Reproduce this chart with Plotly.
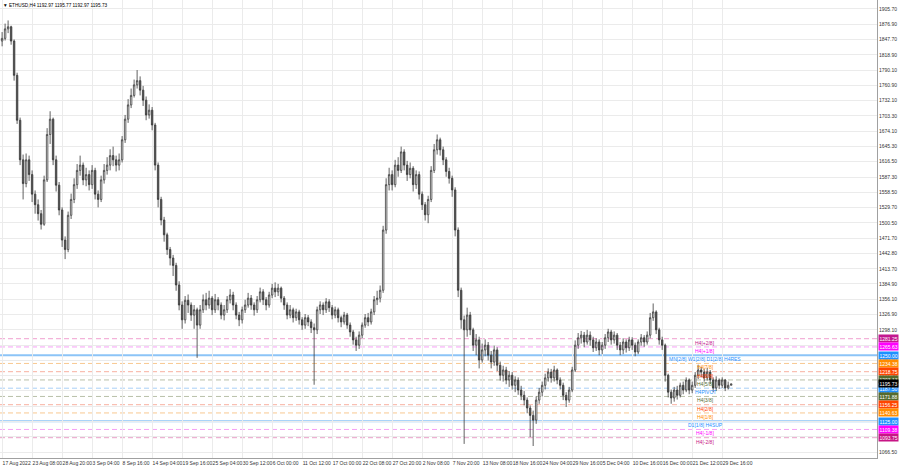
import plotly.graph_objects as go

# ---------------- data ----------------
first_open = 1845.0
close = [1850,1868,1872,1845,1780,1695,1620,1575,1620,1592,
         1555,1535,1518,1498,1582,1668,1697,1620,1572,1525,
         1468,1450,1515,1545,1573,1600,1610,1582,1592,1573,
         1600,1555,1545,1582,1600,1610,1628,1620,1610,1620,
         1658,1697,1724,1742,1762,1770,1752,1733,1705,1714,
         1686,1610,1545,1506,1478,1450,1434,1420,1383,1345,
         1317,1354,1345,1326,1336,1307,1336,1355,1345,1358,
         1336,1355,1345,1326,1336,1355,1364,1345,1326,1317,
         1336,1345,1358,1345,1336,1355,1370,1355,1345,1364,
         1377,1370,1377,1358,1345,1326,1336,1321,1332,1317,
         1307,1321,1313,1302,1298,1336,1345,1336,1351,1340,
         1326,1336,1321,1313,1326,1307,1294,1279,1269,1288,
         1307,1321,1313,1332,1355,1358,1373,1487,1573,1592,
         1573,1610,1600,1635,1610,1592,1604,1573,1592,1555,
         1535,1516,1545,1600,1639,1658,1639,1620,1598,1585,
         1563,1487,1373,1317,1298,1326,1298,1269,1279,1241,
         1260,1269,1250,1237,1260,1231,1212,1222,1203,1212,
         1193,1203,1184,1174,1165,1150,1136,1127,1165,1180,
         1193,1207,1218,1207,1222,1203,1193,1174,1165,1184,
         1222,1269,1283,1288,1275,1288,1279,1264,1275,1260,
         1269,1283,1294,1279,1288,1269,1260,1275,1264,1279,
         1269,1256,1275,1283,1275,1288,1321,1332,1298,1279,
         1269,1212,1180,1169,1184,1174,1193,1184,1203,1184,
         1193,1212,1222,1218,1207,1218,1203,1188,1203,1193,
         1203,1188,1192.97,1195.73]
high = [1862,1878,1884,1874,1848,1785,1700,1630,1632,1628,
        1600,1562,1545,1525,1590,1680,1712,1700,1628,1578,
        1530,1475,1522,1556,1585,1612,1628,1615,1605,1600,
        1610,1605,1562,1590,1612,1625,1640,1645,1628,1632,
        1665,1705,1735,1755,1772,1790,1778,1760,1740,1725,
        1720,1690,1615,1550,1512,1482,1455,1440,1425,1390,
        1352,1362,1365,1350,1345,1340,1345,1365,1368,1372,
        1362,1366,1360,1350,1345,1362,1375,1370,1350,1332,
        1342,1355,1368,1364,1350,1362,1378,1375,1360,1370,
        1385,1388,1385,1380,1362,1350,1345,1340,1338,1336,
        1322,1328,1326,1318,1310,1342,1352,1350,1358,1356,
        1345,1342,1340,1325,1332,1330,1312,1298,1285,1295,
        1312,1328,1330,1338,1362,1372,1382,1495,1585,1605,
        1600,1620,1625,1645,1640,1618,1615,1608,1600,1598,
        1560,1540,1552,1608,1650,1668,1662,1645,1625,1605,
        1590,1568,1492,1378,1325,1340,1332,1302,1290,1285,
        1272,1280,1275,1258,1268,1265,1238,1230,1228,1220,
        1218,1210,1208,1192,1182,1170,1155,1145,1172,1188,
        1200,1215,1225,1224,1230,1225,1208,1198,1180,1190,
        1228,1278,1292,1296,1294,1298,1295,1285,1282,1280,
        1275,1290,1300,1298,1295,1292,1275,1282,1280,1285,
        1284,1274,1280,1290,1288,1295,1330,1348,1335,1302,
        1285,1272,1215,1185,1190,1192,1198,1200,1208,1206,
        1200,1218,1232,1228,1225,1226,1222,1208,1210,1206,
        1208,1205,1200,1195.77]
low = [1835,1846,1860,1838,1770,1688,1610,1545,1568,1580,
       1540,1518,1505,1488,1495,1578,1650,1610,1560,1515,
       1455,1432,1445,1508,1538,1565,1590,1572,1570,1562,
       1565,1545,1530,1540,1575,1592,1600,1608,1598,1600,
       1615,1652,1690,1718,1738,1755,1742,1722,1695,1698,
       1676,1600,1530,1496,1465,1440,1420,1400,1372,1335,
       1300,1310,1330,1315,1300,1245,1300,1330,1335,1338,
       1326,1330,1335,1318,1316,1330,1348,1335,1318,1305,
       1310,1330,1340,1336,1325,1330,1350,1345,1335,1340,
       1358,1360,1362,1350,1336,1318,1320,1312,1315,1308,
       1298,1300,1305,1292,1194,1290,1328,1326,1330,1332,
       1318,1320,1312,1303,1308,1300,1285,1270,1258,1262,
       1282,1302,1305,1308,1326,1345,1350,1368,1480,1562,
       1562,1568,1588,1595,1600,1580,1585,1560,1565,1545,
       1525,1505,1500,1540,1595,1630,1628,1610,1588,1575,
       1550,1475,1360,1300,1082,1285,1288,1258,1250,1225,
       1236,1248,1240,1225,1230,1220,1202,1200,1195,1190,
       1185,1180,1175,1165,1155,1140,1095,1078,1120,1158,
       1172,1185,1200,1198,1200,1195,1185,1165,1152,1160,
       1180,1218,1262,1272,1265,1270,1268,1256,1258,1250,
       1252,1262,1275,1270,1272,1260,1250,1252,1255,1258,
       1260,1248,1252,1268,1266,1270,1282,1315,1290,1270,
       1260,1200,1170,1158,1162,1166,1170,1176,1180,1176,
       1178,1188,1205,1208,1200,1202,1196,1180,1182,1186,
       1188,1182,1185,1192.97]

x_tick_labels = ["17 Aug 2022","23 Aug 08:00","28 Aug 20:00","3 Sep 04:00","8 Sep 16:00",
                 "14 Sep 04:00","19 Sep 16:00","25 Sep 04:00","30 Sep 12:00","6 Oct 00:00",
                 "11 Oct 12:00","17 Oct 00:00","22 Oct 08:00","27 Oct 20:00","2 Nov 08:00",
                 "7 Nov 20:00","13 Nov 08:00","18 Nov 16:00","24 Nov 04:00","29 Nov 16:00",
                 "5 Dec 04:00","10 Dec 16:00","16 Dec 00:00","21 Dec 12:00","29 Dec 16:00"]
x_tick_bars = list(range(0, 250, 10))

y_ticks = [1905.70,1876.90,1847.70,1818.90,1790.10,1760.90,1732.10,1703.30,1674.10,1645.30,
           1616.50,1587.30,1558.50,1529.70,1500.50,1471.70,1442.80,1413.70,1384.90,1356.10,
           1326.90,1298.10,1269.30,1240.10,1211.30,1182.50,1153.30,1124.50,1095.70,1066.50]

level_prices = [1281.25,1265.63,1250.00,1234.38,1218.75,1203.13,1187.50,1171.88,1156.25,1140.63,1125.00,1109.38,1093.75]
level_names = ["H4[+2/8]","H4[+1/8]","MN[2/8] W1[2/8] D1[2/8] H4RES","H4[7/8]","H4[6/8]","H4[5/8]",
               "H4PIVOT","H4[3/8]","H4[2/8]","H4[1/8]","D1[1/8] H4SUP","H4[-1/8]","H4[-2/8]"]
level_colors = ["#c2188f","#ff00ff","#1e90ff","#ff8c00","#ff4500","#556b2f",
                "#1e90ff","#556b2f","#ff4500","#ff8c00","#1e90ff","#ff00ff","#c71585"]
line_colors = ["#f0a0d0","#f5a0f5","#8cc4f7","#f8c890","#f8b0a0","#b8c0a8",
               "#a8cff7","#b8c0a8","#f8b0a0","#f8c890","#8cc4f7","#f5a0f5","#e8a0c8"]
line_dash = ["5px,3px","5px,3px","solid","5px,3px","5px,3px","5px,3px","5px,3px",
             "5px,3px","5px,3px","5px,3px","solid","5px,3px","5px,3px"]
line_width = [1,1,2,1,1,1,1,1,1,1,2,1,1]

last_price = 1195.73
title_text = "ETHUSD,H4 1192.97 1195.77 1192.97 1195.73"

FONT = "Liberation Sans, Arial"
FS = 5

# ---------------- figure ----------------
opens = [first_open] + close[:-1]
bars = list(range(len(close)))

fig = go.Figure()
fig.add_trace(go.Candlestick(
    x=bars, open=opens, high=high, low=low, close=close,
    increasing=dict(line=dict(color="#383838", width=0.8), fillcolor="#ffffff"),
    decreasing=dict(line=dict(color="#383838", width=0.8), fillcolor="#505050"),
    whiskerwidth=0, showlegend=False, hoverinfo="skip"))

for p, c, d, w in zip(level_prices, line_colors, line_dash, line_width):
    fig.add_hline(y=p, line=dict(color=c, dash=d, width=w), layer="below")

annotations = []
for p, name, c in zip(level_prices, level_names, level_colors):
    annotations.append(dict(x=234.3, y=p, xref="x", yref="y", text=name, showarrow=False,
                            xanchor="center", yanchor="top", yshift=1,
                            font=dict(family=FONT, size=FS, color=c)))
    annotations.append(dict(x=1, y=p, xref="paper", yref="y", text=f"{p:.2f}", showarrow=False,
                            xanchor="left", yanchor="middle", xshift=1, bgcolor=c,
                            borderpad=0.5, font=dict(family=FONT, size=FS, color="#ffffff")))
annotations.append(dict(x=1, y=last_price, xref="paper", yref="y", text=f"{last_price:.2f}",
                        showarrow=False, xanchor="left", yanchor="middle", xshift=1, bgcolor="#000000",
                        borderpad=0.5, font=dict(family=FONT, size=FS, color="#ffffff")))
annotations.append(dict(x=0, y=1, xref="paper", yref="paper", text="▼ " + title_text, showarrow=False,
                        xanchor="left", yanchor="top", xshift=1, yshift=-1,
                        font=dict(family=FONT, size=4.7, color="#000000")))

fig.update_layout(
    width=900, height=468,
    margin=dict(l=0, r=23, t=0, b=10),
    paper_bgcolor="#ffffff", plot_bgcolor="#ffffff",
    showlegend=False,
    annotations=annotations,
    xaxis=dict(range=[-0.7, 291.6], tickvals=x_tick_bars, ticktext=x_tick_labels,
               rangeslider=dict(visible=False), showgrid=True, gridcolor="#ebebeb", gridwidth=1,
               ticks="", ticklabelposition="outside right", tickangle=0, automargin=False,
               tickfont=dict(family=FONT, size=FS, color="#333333"),
               showline=True, linecolor="#a0a0a0", mirror=True, zeroline=False),
    yaxis=dict(range=[1055.3, 1922.7], side="right", tickvals=y_ticks, automargin=False,
               ticktext=[f"{v:.2f}" for v in y_ticks], showgrid=True, gridcolor="#ebebeb",
               gridwidth=1, ticks="", tickfont=dict(family=FONT, size=FS, color="#333333"),
               showline=True, linecolor="#a0a0a0", mirror=True, zeroline=False),
)

fig.write_html("out.html", config={"displayModeBar": False},
               post_script="document.body.style.margin='0';document.body.style.overflow='hidden';")
